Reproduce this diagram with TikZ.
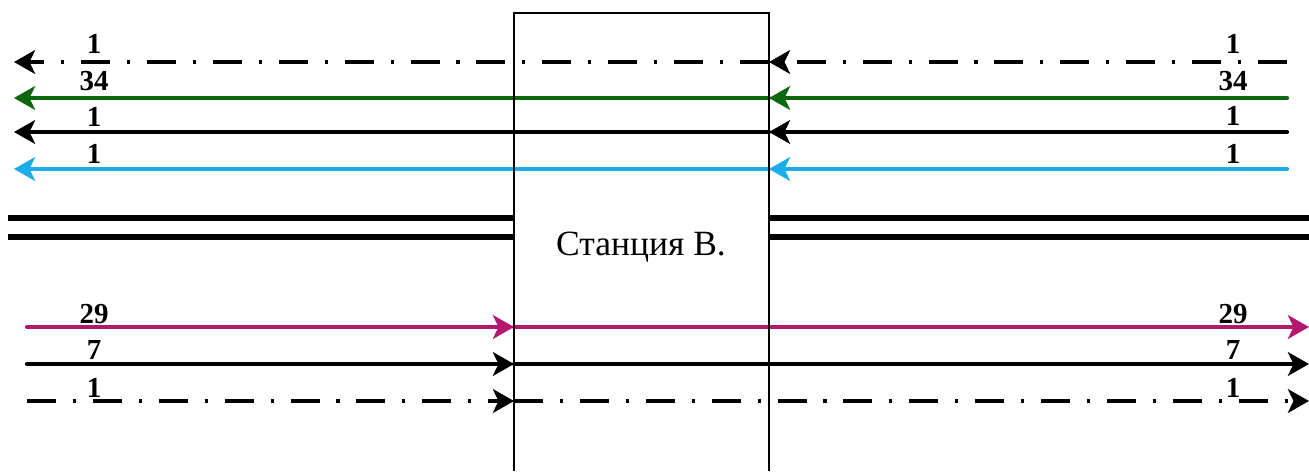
\documentclass[tikz,border=0pt]{standalone}
\usepackage{fontspec}
\setmainfont{Liberation Serif}
\usetikzlibrary{arrows.meta}
\definecolor{trgreen}{RGB}{12,104,12}
\definecolor{trcyan}{RGB}{28,172,232}
\definecolor{trmagenta}{RGB}{180,24,110}
\tikzset{
  tip/.style={-{Stealth[length=12pt,width=13.5pt,inset=3.2pt]}},
  trline/.style={line width=2.4pt,line cap=round},
  dashdot/.style={line width=2.4pt,line cap=butt,dash pattern=on 16.5pt off 9.6pt on 1.8pt off 9.6pt},
  track/.style={line width=3.4pt,line cap=butt},
  boxline/.style={line width=1.1pt},
  num/.style={font=\bfseries\fontsize{16.5}{16.5}\selectfont,anchor=base,inner sep=0pt},
  station/.style={font=\fontsize{20.2}{21}\selectfont,anchor=base,inner sep=0pt}
}
\begin{document}
\begin{tikzpicture}[x=0.02cm,y=-0.02cm]
\useasboundingbox (0,0) rectangle (1309,471);
% coordinates
\foreach \n/\y in {a/62,b/98,c/132,d/169,e/327,f/364,g/401}{
  \coordinate (\n L) at (14,\y);
  \coordinate (\n S) at (27,\y);
  \coordinate (\n W) at (514,\y);
  \coordinate (\n E) at (769,\y);
  \coordinate (\n R) at (1287,\y);
  \coordinate (\n X) at (1309,\y);
}
% upper direction (right to left)
\draw[dashdot,tip] (aR) -- (aE);
\draw[dashdot,tip] (aE) -- (aL);
\draw[trline,trgreen,tip] (bR) -- (bE);
\draw[trline,trgreen,tip] (bE) -- (bL);
\draw[trline,black,tip] (cR) -- (cE);
\draw[trline,black,tip] (cE) -- (cL);
\draw[trline,trcyan,tip] (dR) -- (dE);
\draw[trline,trcyan,tip] (dE) -- (dL);
% tracks
\coordinate (t1a) at (8,218); \coordinate (t1b) at (514,218);
\coordinate (t1c) at (769,218); \coordinate (t1d) at (1312,218);
\coordinate (t2a) at (8,237); \coordinate (t2b) at (514,237);
\coordinate (t2c) at (769,237); \coordinate (t2d) at (1312,237);
\draw[track] (t1a) -- (t1b);
\draw[track] (t2a) -- (t2b);
\draw[track] (t1c) -- (t1d);
\draw[track] (t2c) -- (t2d);
% lower direction (left to right)
\draw[trline,trmagenta,tip] (eS) -- (eW);
\draw[trline,trmagenta,tip] (eW) -- (eX);
\draw[trline,black,tip] (fS) -- (fW);
\draw[trline,black,tip] (fW) -- (fX);
\draw[dashdot,tip] (gS) -- (gW);
\draw[dashdot,tip] (gW) -- (gX);
% station box
\coordinate (bx1) at (514,471); \coordinate (bx2) at (514,13);
\coordinate (bx3) at (769,13); \coordinate (bx4) at (769,471);
\draw[boxline] (bx1) -- (bx2) -- (bx3) -- (bx4);
\node[station] (st) at (641,255) {Станция В.};
% labels left
\node[num] (l1) at (94,53) {1};
\node[num] (l2) at (94,90) {34};
\node[num] (l3) at (94,126) {1};
\node[num] (l4) at (94,163) {1};
\node[num] (l5) at (94,323) {29};
\node[num] (l6) at (94,359) {7};
\node[num] (l7) at (94,397) {1};
% labels right
\node[num] (r1) at (1233,53) {1};
\node[num] (r2) at (1233,90) {34};
\node[num] (r3) at (1233,125) {1};
\node[num] (r4) at (1233,163) {1};
\node[num] (r5) at (1233,323) {29};
\node[num] (r6) at (1233,359) {7};
\node[num] (r7) at (1233,397) {1};
\end{tikzpicture}
\end{document}
